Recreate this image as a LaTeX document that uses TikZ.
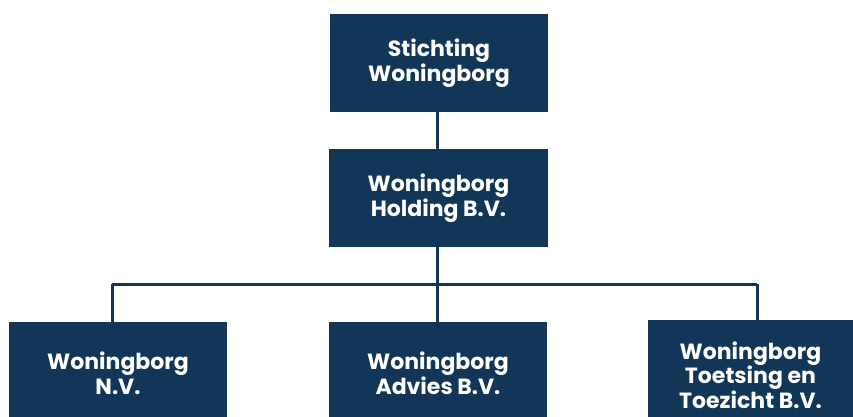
\documentclass[tikz,border=0pt]{standalone}
\usepackage{fontspec}
\setmainfont{Poppins}
\definecolor{navy}{RGB}{18,54,87}
\begin{document}
\begin{tikzpicture}[x=1pt,y=-1pt,
  orgbox/.style={draw=none,fill=navy,text=white,align=center,inner sep=0pt,
    font=\fontsize{22}{25}\selectfont\bfseries},
  link/.style={draw=navy,line width=3pt}]
\useasboundingbox (0,0) rectangle (853,416);
\node[orgbox,minimum width=218pt,minimum height=98pt] (stich) at (439,63) {Stichting\\Woningborg};
\node[orgbox,minimum width=219pt,minimum height=98pt] (hold) at (438.5,198) {Woningborg\\Holding B.V.};
\node[orgbox,minimum width=218pt,minimum height=102pt] (nv) at (118,373) {Woningborg\\N.V.};
\node[orgbox,minimum width=218pt,minimum height=102pt] (adv) at (438,373) {Woningborg\\Advies B.V.};
\node[orgbox,minimum width=205pt,minimum height=110pt,font=\fontsize{22}{22}\selectfont\bfseries] (toe) at (750.5,375) {Woningborg\\Toetsing en\\Toezicht B.V.};
\coordinate (busL) at (112,284);
\coordinate (busM) at (437,284);
\coordinate (busR) at (757,284);
\draw[link] (stich.south -| busM) -- (hold.north -| busM);
\draw[link] (hold.south -| busM) -- (busM);
\draw[link] (busL) -- (busR);
\draw[link] (busL) -- (busL |- nv.north);
\draw[link] (busM) -- (busM |- adv.north);
\draw[link] (busR) -- (busR |- toe.north);
\end{tikzpicture}
\end{document}
